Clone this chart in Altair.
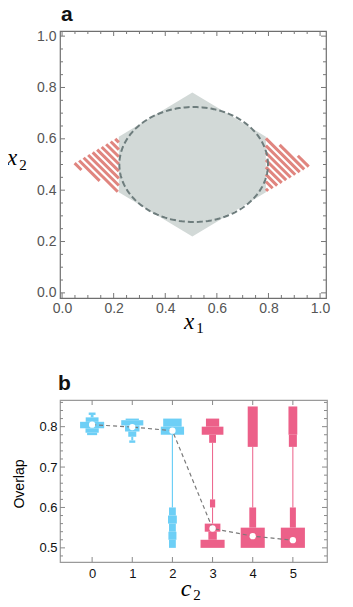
import altair as alt
import numpy as np
import pandas as pd

# ---------------- Panel a geometry ----------------
diamond_left = 0.04
diamond_right = 0.97
diamond_cx = 0.505
diamond_top = 0.78
diamond_bottom = 0.22
diamond_cy = 0.50
clip_left = 0.22
clip_right = 0.79
ellipse_cx = 0.51
ellipse_cy = 0.50
ellipse_rx = 0.288
ellipse_ry = 0.224
stripe_step = 0.028

a_major = [0.0, 0.2, 0.4, 0.6, 0.8, 1.0]
a_minor = [round(0.05 * i, 2) for i in range(21) if i % 4 != 0]

# ---------------- Panel b data ----------------
c2_values = [0, 1, 2, 3, 4, 5]
medians = [0.805, 0.799, 0.790, 0.548, 0.529, 0.519]
# histogram bins per c2: (low, high, width in c2 units)
bins_c0 = [(0.829, 0.835, 0.17), (0.823, 0.829, 0.07), (0.812, 0.823, 0.32),
           (0.796, 0.812, 0.60), (0.785, 0.796, 0.33), (0.779, 0.785, 0.25)]
bins_c1 = [(0.816, 0.820, 0.33), (0.803, 0.816, 0.55), (0.788, 0.803, 0.36),
           (0.775, 0.788, 0.20), (0.766, 0.775, 0.05), (0.760, 0.766, 0.15)]
bins_c2 = [(0.80, 0.82, 0.46), (0.78, 0.80, 0.58), (0.60, 0.78, 0.03),
           (0.58, 0.60, 0.17), (0.56, 0.58, 0.22), (0.54, 0.56, 0.17),
           (0.52, 0.54, 0.20), (0.50, 0.52, 0.17)]
bins_c3 = [(0.80, 0.82, 0.33), (0.78, 0.80, 0.54), (0.76, 0.78, 0.17),
           (0.62, 0.76, 0.025), (0.60, 0.62, 0.13), (0.56, 0.60, 0.025),
           (0.54, 0.56, 0.39), (0.52, 0.54, 0.21), (0.50, 0.52, 0.60)]
bins_c4 = [(0.75, 0.85, 0.25), (0.60, 0.75, 0.025), (0.55, 0.60, 0.17),
           (0.50, 0.55, 0.60)]
bins_c5 = [(0.78, 0.85, 0.22), (0.75, 0.78, 0.20), (0.60, 0.75, 0.025),
           (0.55, 0.60, 0.15), (0.50, 0.55, 0.60)]
all_bins = [bins_c0, bins_c1, bins_c2, bins_c3, bins_c4, bins_c5]
group_of = ["low", "low", "low", "high", "high", "high"]

b_y_major = [0.5, 0.6, 0.7, 0.8]
b_y_minor = [round(0.48 + 0.02 * i, 2) for i in range(20)]
b_y_minor = [v for v in b_y_minor if v not in b_y_major and v <= 0.865]
b_x_major = [0, 1, 2, 3, 4, 5]

CYAN = "#6dcff6"
PINK = "#ec6089"
FONT = "Liberation Sans"
SERIF = "Liberation Serif"

# ---------------- build panel a tables ----------------
def upper(x):
    if x <= diamond_cx:
        return diamond_cy + (diamond_top - diamond_cy) * (x - diamond_left) / (diamond_cx - diamond_left)
    return diamond_cy + (diamond_top - diamond_cy) * (diamond_right - x) / (diamond_right - diamond_cx)

def lower(x):
    if x <= diamond_cx:
        return diamond_cy - (diamond_cy - diamond_bottom) * (x - diamond_left) / (diamond_cx - diamond_left)
    return diamond_cy - (diamond_cy - diamond_bottom) * (diamond_right - x) / (diamond_right - diamond_cx)

gx = [clip_left, diamond_cx, clip_right]
gray_df = pd.DataFrame({"x": gx, "y": [lower(v) for v in gx], "y2": [upper(v) for v in gx]})

tri_left = [(diamond_left, diamond_cy), (clip_left, upper(clip_left)), (clip_left, lower(clip_left))]
tri_right = [(diamond_right, diamond_cy), (clip_right, upper(clip_right)), (clip_right, lower(clip_right))]

def clip_stripes(poly):
    segs = []
    sums = [p[0] + p[1] for p in poly]
    c = min(sums) + stripe_step / 2
    while c < max(sums):
        pts = []
        for i in range(3):
            p, q = poly[i], poly[(i + 1) % 3]
            fp, fq = p[0] + p[1] - c, q[0] + q[1] - c
            if fp == fq:
                continue
            t = fp / (fp - fq)
            if 0 <= t <= 1:
                pts.append((p[0] + t * (q[0] - p[0]), p[1] + t * (q[1] - p[1])))
        if len(pts) >= 2:
            pts.sort()
            segs.append({"x": pts[0][0], "y": pts[0][1], "x2": pts[-1][0], "y2": pts[-1][1]})
        c += stripe_step
    return segs

stripe_df = pd.DataFrame(clip_stripes(tri_left) + clip_stripes(tri_right))

theta = np.linspace(0, 2 * np.pi, 161)
ell_df = pd.DataFrame({"x": ellipse_cx + ellipse_rx * np.cos(theta),
                       "y": ellipse_cy + ellipse_ry * np.sin(theta),
                       "o": np.arange(len(theta))})

AW, AH = 266, 267
xa = alt.Scale(domain=[-0.008, 1.023], nice=False, zero=False)
ya = alt.Scale(domain=[-0.02, 1.02], nice=False, zero=False)

axis_a_x = alt.Axis(values=a_major, format=".1f", ticks=False, domain=False, grid=False,
                    labelFont=FONT, labelFontSize=14, labelColor="#555555", labelPadding=3, title=None)
axis_a_y = alt.Axis(values=a_major, format=".1f", ticks=False, domain=False, grid=False,
                    labelFont=FONT, labelFontSize=14, labelColor="#555555", labelPadding=4, title=None)

gray = alt.Chart(gray_df).mark_area(color="#d2d9d7", opacity=1).encode(
    x=alt.X("x:Q", scale=xa, axis=axis_a_x),
    y=alt.Y("y:Q", scale=ya, axis=axis_a_y),
    y2="y2:Q")
stripes = alt.Chart(stripe_df).mark_rule(color="#e0857f", strokeWidth=3).encode(
    x="x:Q", y="y:Q", x2="x2:Q", y2="y2:Q")
ellipse = alt.Chart(ell_df).mark_line(color="#6e7d7d", strokeWidth=2, strokeDash=[6, 3]).encode(
    x="x:Q", y="y:Q", order="o:Q")

def frame_ticks(xvals, yvals, w, h, length, color):
    layers = []
    if yvals:
        d = pd.DataFrame({"v": yvals})
        layers.append(alt.Chart(d).mark_rule(color=color, strokeWidth=1).encode(
            y="v:Q", x=alt.value(0), x2=alt.value(length)))
        layers.append(alt.Chart(d).mark_rule(color=color, strokeWidth=1).encode(
            y="v:Q", x=alt.value(w), x2=alt.value(w - length)))
    if xvals:
        d = pd.DataFrame({"v": xvals})
        layers.append(alt.Chart(d).mark_rule(color=color, strokeWidth=1).encode(
            x="v:Q", y=alt.value(0), y2=alt.value(length)))
        layers.append(alt.Chart(d).mark_rule(color=color, strokeWidth=1).encode(
            x="v:Q", y=alt.value(h), y2=alt.value(h - length)))
    return layers

def label(text, x, y, size, font, style="normal", angle=0, color="black", align="center",
          weight="normal"):
    return alt.Chart(pd.DataFrame({"t": [text]})).mark_text(
        font=font, fontSize=size, fontStyle=style, fontWeight=weight, angle=angle, color=color,
        align=align, baseline="alphabetic").encode(
        text="t:N", x=alt.value(x), y=alt.value(y))

a_layers = [gray, stripes, ellipse]
a_layers += frame_ticks(a_major, a_major, AW, AH, 5, "#777777")
a_layers += frame_ticks(a_minor, a_minor, AW, AH, 3, "#777777")
a_layers += [label("x", 129, 298, 23, SERIF, "italic"),
             label("1", 140, 302, 15, SERIF),
             label("x", -48, 134, 23, SERIF, "italic"),
             label("2", -37, 139, 15, SERIF),
             label("a", 1, -10, 21, FONT, align="left", weight="bold", color="#111111")]

panel_a = alt.layer(*a_layers).properties(
    width=AW, height=AH,
    view=alt.ViewBackground(stroke="#6f6f6f", strokeWidth=1.2))

# ---------------- panel b ----------------
rows = []
for c, bins, g in zip(c2_values, all_bins, group_of):
    for lo, hi, w in bins:
        rows.append({"c": c, "xl": c - w / 2, "xr": c + w / 2, "lo": lo, "hi": hi, "g": g})
rect_df = pd.DataFrame(rows)
med_df = pd.DataFrame({"c": c2_values, "m": medians})

BW, BH = 267, 162
xb = alt.Scale(domain=[-0.8, 5.85], nice=False, zero=False)
yb = alt.Scale(domain=[0.465, 0.866], nice=False, zero=False)

axis_b_x = alt.Axis(values=b_x_major, format="d", ticks=False, domain=False, grid=False,
                    labelFont=FONT, labelFontSize=13, labelColor="#111111", labelPadding=5, title=None)
axis_b_y = alt.Axis(values=b_y_major, format=".1f", ticks=False, domain=False, grid=False,
                    labelFont=FONT, labelFontSize=13, labelColor="#111111", labelPadding=3, title=None)

rects = alt.Chart(rect_df).mark_rect().encode(
    x=alt.X("xl:Q", scale=xb, axis=axis_b_x), x2="xr:Q",
    y=alt.Y("lo:Q", scale=yb, axis=axis_b_y), y2="hi:Q",
    color=alt.Color("g:N", scale=alt.Scale(domain=["low", "high"], range=[CYAN, PINK]), legend=None))
medline = alt.Chart(med_df).mark_line(color="#7a7a7a", strokeWidth=1.2, strokeDash=[4, 3]).encode(
    x="c:Q", y="m:Q")
dots = alt.Chart(med_df).mark_point(filled=True, color="white", opacity=1, size=40, shape="circle").encode(
    x="c:Q", y="m:Q")

b_layers = [rects, medline, dots]
b_layers += frame_ticks(b_x_major, b_y_major, BW, BH, 5, "#8a8a8a")
b_layers += frame_ticks([], b_y_minor, BW, BH, 3, "#8a8a8a")
b_layers += [label("c", 126, 196, 24, SERIF, "italic"),
             label("2", 137, 200, 15, SERIF),
             label("Overlap", -36, 84, 14, FONT, angle=270),
             label("b", -2, -10, 21, FONT, align="left", weight="bold", color="#111111")]

panel_b = alt.layer(*b_layers).properties(
    width=BW, height=BH,
    view=alt.ViewBackground(stroke="#9a9a9a", strokeWidth=1.2))

chart = alt.vconcat(panel_a, panel_b, spacing=35).properties(
    padding={"left": -2, "top": -5, "right": 5, "bottom": 0})

chart.save("out.html", embed_options={"renderer": "svg", "actions": False})
